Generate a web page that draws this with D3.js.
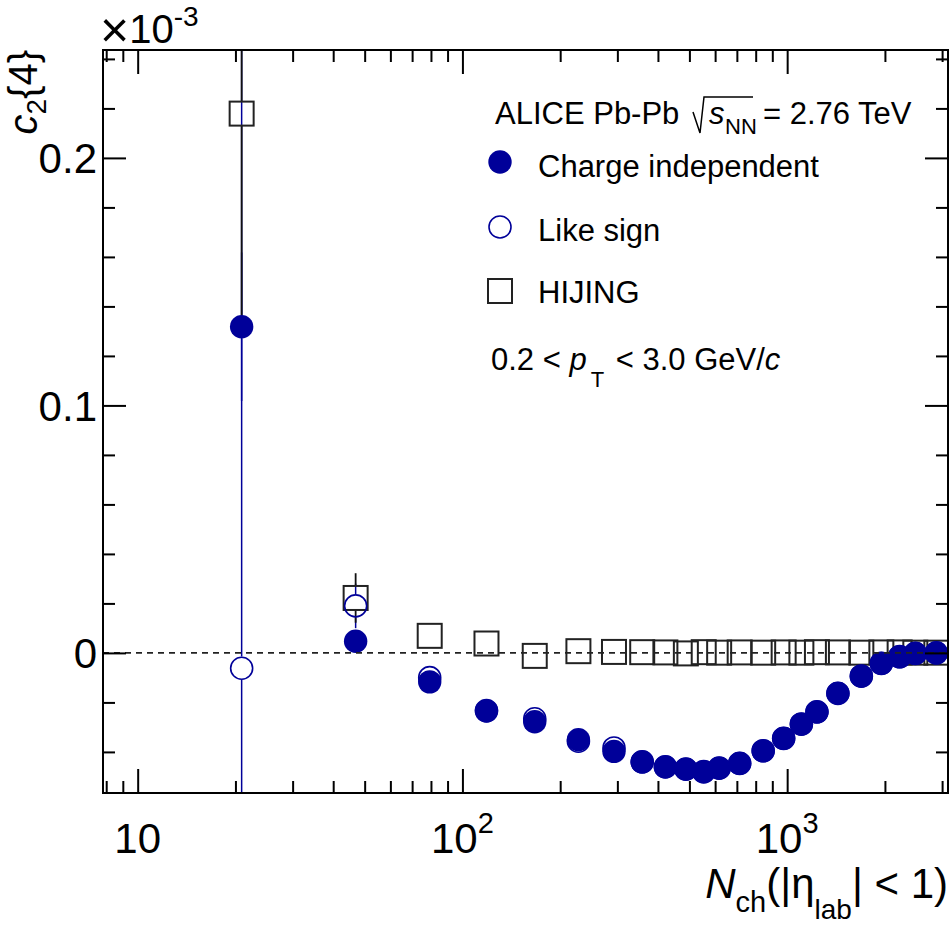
<!DOCTYPE html>
<html>
<head>
<meta charset="utf-8">
<script src="https://cdn.jsdelivr.net/npm/d3@7"></script>
<style>
  body { margin: 0; background: #fff; }
  svg { font-family: "Liberation Sans", Arial, Helvetica, sans-serif; }
</style>
</head>
<body>
<div id="chart"></div>
<script>
// Multiplicity bins, N_ch(|eta_lab| < 1)
const nch = [20.9, 46.9, 79.3, 118.6, 167.0, 227.6, 292.9, 357.8, 421.7, 487.6, 553.4, 617.4,
  714.1, 843.6, 975.4, 1106, 1235, 1433, 1692, 1950, 2220, 2481, 2880];

// c2{4} values in units of 1e-3
const chargeIndep = [0.1318, 0.0047, -0.0117, -0.0235, -0.0278, -0.0351, -0.0398, -0.0441, -0.0461,
  -0.0470, -0.0481, -0.0465, -0.0447, -0.0396, -0.0346, -0.0288, -0.0239, -0.0164, -0.0094,
  -0.0043, -0.0016, -0.0002, 0.0000];
const chargeIndepErr = [0.03, 0.004, 0.003, 0.003, 0.002, 0.002, 0.002, 0.002, 0.002, 0.002, 0.002,
  0.002, 0.002, 0.002, 0.002, 0.002, 0.002, 0.002, 0.002, 0.002, 0.002, 0.002, 0.002];

const likeSign = [-0.0062, 0.0190, -0.0100, -0.0233, -0.0266, -0.0357, -0.0384, -0.0440, -0.0460,
  -0.0469, -0.0479, -0.0466, -0.0446, -0.0395, -0.0345, -0.0287, -0.0238, -0.0163, -0.0093,
  -0.0042, -0.0015, -0.0002, 0.0000];
const likeSignErr = [0.27, 0.009, 0.004, 0.003, 0.003, 0.003, 0.003, 0.003, 0.003, 0.003, 0.003,
  0.003, 0.003, 0.003, 0.003, 0.003, 0.003, 0.003, 0.003, 0.003, 0.003, 0.003, 0.003];

const hijing = [0.2179, 0.0222, 0.0069, 0.0038, -0.0012, 0.0007, 0.0004, 0.0003, 0.0002, -0.0002,
  0.0003, 0.0001, 0.0002, 0.0001, 0.0002, 0.0001, 0.0003, 0.0002, 0.0001, 0.0002, 0.0002, 0.0001, 0.0001];
const hijingErr = [0.086, 0.0100, 0.003, 0.002, 0.002, 0.002, 0.002, 0.002, 0.002, 0.002, 0.002,
  0.002, 0.002, 0.002, 0.002, 0.002, 0.002, 0.002, 0.002, 0.002, 0.002, 0.002, 0.002];

// Axis ticks
const xMajor = [10, 100, 1000];
const xMajorExp = ["", "2", "3"];
const xMinor = [8, 9, 20, 30, 40, 50, 60, 70, 80, 90, 200, 300, 400, 500, 600, 700, 800, 900, 2000, 3000];
const yMajor = [0, 0.1, 0.2];
const yMajorLabels = ["0", "0.1", "0.2"];
const yMinor = [-0.04, -0.02, 0.02, 0.04, 0.06, 0.08, 0.12, 0.14, 0.16, 0.18, 0.22, 0.24];

const W = 950, H = 926;
const margin = { top: 50, right: 2, bottom: 133, left: 103 };
const blue = "#000099";
const axisFont = 42;

const svg = d3.select("#chart").append("svg")
  .attr("width", W).attr("height", H);

const x = d3.scaleLog().domain([7.82, 3128]).range([margin.left, W - margin.right]);
const y = d3.scaleLinear().domain([-0.0566, 0.2436]).range([H - margin.bottom, margin.top]);

const x0 = margin.left, x1 = W - margin.right, y0 = margin.top, y1 = H - margin.bottom;

svg.append("clipPath").attr("id", "plotclip")
  .append("rect").attr("x", x0).attr("y", y0).attr("width", x1 - x0).attr("height", y1 - y0);

const plot = svg.append("g").attr("clip-path", "url(#plotclip)");

const series = {
  hijing: { vals: hijing, errs: hijingErr, color: "#111", gap: 12, kind: "square" },
  like: { vals: likeSign, errs: likeSignErr, color: blue, gap: 11.7, kind: "open" },
  indep: { vals: chargeIndep, errs: chargeIndepErr, color: blue, gap: 11.7, kind: "filled" }
};

// Error bars with a gap around the marker (ROOT style); HIJING drawn last so black sits on top
[series.like, series.indep, series.hijing].forEach(s => {
  const segs = [];
  nch.forEach((n, i) => {
    const cx = x(n), cy = y(s.vals[i]);
    const top = y(s.vals[i] + s.errs[i]), bot = y(s.vals[i] - s.errs[i]);
    if (cy - s.gap > top) segs.push({ cx, a: top, b: cy - s.gap });
    if (cy + s.gap < bot) segs.push({ cx, a: cy + s.gap, b: bot });
  });
  plot.append("g").selectAll("line").data(segs).enter().append("line")
    .attr("x1", d => d.cx).attr("x2", d => d.cx)
    .attr("y1", d => d.a).attr("y2", d => d.b)
    .attr("stroke", s.color).attr("stroke-width", s.kind === "square" ? 1.8 : 1.5);
});

// Markers
function drawMarkers(g, s) {
  const pts = nch.map((n, i) => ({ cx: x(n), cy: y(s.vals[i]) }));
  if (s.kind === "square") {
    g.selectAll("rect").data(pts).enter().append("rect")
      .attr("x", d => d.cx - 12).attr("y", d => d.cy - 12)
      .attr("width", 24).attr("height", 24)
      .attr("fill", "none").attr("stroke", "#222").attr("stroke-width", 2);
  } else {
    g.selectAll("circle").data(pts).enter().append("circle")
      .attr("cx", d => d.cx).attr("cy", d => d.cy)
      .attr("r", s.kind === "filled" ? 11.7 : 11)
      .attr("fill", s.kind === "filled" ? blue : "none")
      .attr("stroke", blue).attr("stroke-width", s.kind === "filled" ? 0 : 1.6);
  }
}
[series.hijing, series.like, series.indep].forEach(s => drawMarkers(plot.append("g"), s));

// Zero line
plot.append("line")
  .attr("x1", x0).attr("x2", x1).attr("y1", y(0)).attr("y2", y(0))
  .attr("stroke", "#222").attr("stroke-width", 1.8).attr("stroke-dasharray", "6,5");

// Ticks on all four sides
function ticks(axis, transform) {
  const g = svg.append("g").attr("transform", transform).call(axis);
  g.select(".domain").remove();
  g.selectAll(".tick line").attr("stroke", "#000").attr("stroke-width", 2);
  g.selectAll(".tick text").remove();
}
ticks(d3.axisBottom(x).tickValues(xMajor).tickSize(-24).tickSizeOuter(0), `translate(0,${y1})`);
ticks(d3.axisBottom(x).tickValues(xMinor).tickSize(-12).tickSizeOuter(0), `translate(0,${y1})`);
ticks(d3.axisTop(x).tickValues(xMajor).tickSize(-24).tickSizeOuter(0), `translate(0,${y0})`);
ticks(d3.axisTop(x).tickValues(xMinor).tickSize(-12).tickSizeOuter(0), `translate(0,${y0})`);
ticks(d3.axisLeft(y).tickValues(yMajor).tickSize(-23).tickSizeOuter(0), `translate(${x0},0)`);
ticks(d3.axisLeft(y).tickValues(yMinor).tickSize(-12).tickSizeOuter(0), `translate(${x0},0)`);
ticks(d3.axisRight(y).tickValues(yMajor).tickSize(-23).tickSizeOuter(0), `translate(${x1},0)`);
ticks(d3.axisRight(y).tickValues(yMinor).tickSize(-12).tickSizeOuter(0), `translate(${x1},0)`);

// Frame
svg.append("rect")
  .attr("x", x0).attr("y", y0).attr("width", x1 - x0).attr("height", y1 - y0)
  .attr("fill", "none").attr("stroke", "#000").attr("stroke-width", 2);

// X tick labels (10, 10^2, 10^3)
xMajor.forEach((v, i) => {
  const t = svg.append("text")
    .attr("x", x(v)).attr("y", 853)
    .attr("text-anchor", "middle").attr("font-size", axisFont);
  t.append("tspan").text("10");
  if (xMajorExp[i]) {
    t.append("tspan").attr("dy", -20).attr("font-size", 29).text(xMajorExp[i]);
  }
});

// Y tick labels
svg.append("g").selectAll("text").data(yMajor).enter().append("text")
  .attr("x", 97).attr("y", d => y(d)).attr("dy", "0.36em")
  .attr("text-anchor", "end").attr("font-size", axisFont)
  .text((d, i) => yMajorLabels[i]);

// Exponent label
const ex = svg.append("text").attr("x", 100).attr("y", 43).attr("font-size", 40);
ex.append("tspan").attr("font-size", 50).attr("dy", 4).text("\u00d7");
ex.append("tspan").attr("dy", -4).text("10");
ex.append("tspan").attr("dy", -17).attr("font-size", 28).text("-3");

// Y axis title: c_2{4}
const yt = svg.append("text")
  .attr("transform", "translate(37,50) rotate(-90)")
  .attr("text-anchor", "end").attr("font-size", 40);
yt.append("tspan").attr("font-style", "italic").text("c");
yt.append("tspan").attr("dy", 9).attr("font-size", 28).text("2");
yt.append("tspan").attr("dy", -9).text("{4}");

// X axis title: N_ch(|eta_lab| < 1)
const xt = svg.append("text")
  .attr("x", 948).attr("y", 898)
  .attr("text-anchor", "end").attr("font-size", axisFont);
xt.append("tspan").attr("font-style", "italic").text("N");
xt.append("tspan").attr("dy", 14).attr("font-size", 29).text("ch");
xt.append("tspan").attr("dy", -14).text("(|\u03b7");
xt.append("tspan").attr("dy", 21).attr("font-size", 28).text("lab");
xt.append("tspan").attr("dy", -21).text("| < 1)");

// Legend
const lg = svg.append("g").attr("font-size", 31);
lg.append("text").attr("x", 495).attr("y", 124).text("ALICE Pb-Pb");
lg.append("path")
  .attr("d", "M693,112 L700,133 L704,97 L753,97")
  .attr("fill", "none").attr("stroke", "#000").attr("stroke-width", 1.5);
lg.append("text").attr("x", 709).attr("y", 124).attr("font-style", "italic").text("s");
lg.append("text").attr("x", 725).attr("y", 134).attr("font-size", 22).text("NN");
lg.append("text").attr("x", 763).attr("y", 124).text("= 2.76 TeV");

const legendItems = [
  { label: "Charge independent", kind: "filled", cy: 162, ty: 177 },
  { label: "Like sign", kind: "open", cy: 227, ty: 241 },
  { label: "HIJING", kind: "square", cy: 291, ty: 303 }
];
legendItems.forEach(it => {
  if (it.kind === "square") {
    lg.append("rect").attr("x", 488).attr("y", it.cy - 12).attr("width", 24).attr("height", 24)
      .attr("fill", "none").attr("stroke", "#222").attr("stroke-width", 2);
  } else {
    lg.append("circle").attr("cx", 500).attr("cy", it.cy)
      .attr("r", it.kind === "filled" ? 11.7 : 11)
      .attr("fill", it.kind === "filled" ? blue : "none")
      .attr("stroke", blue).attr("stroke-width", it.kind === "filled" ? 0 : 1.6);
  }
  lg.append("text").attr("x", 538).attr("y", it.ty).text(it.label);
});

const pt = lg.append("text").attr("x", 491).attr("y", 370);
pt.append("tspan").text("0.2 < ");
pt.append("tspan").attr("font-style", "italic").text("p");
pt.append("tspan").attr("dy", 17).attr("font-size", 22).attr("dx", 4).text("T");
pt.append("tspan").attr("dy", -17).attr("dx", 3).text(" < 3.0 GeV/");
pt.append("tspan").attr("font-style", "italic").text("c");
</script>
</body>
</html>
